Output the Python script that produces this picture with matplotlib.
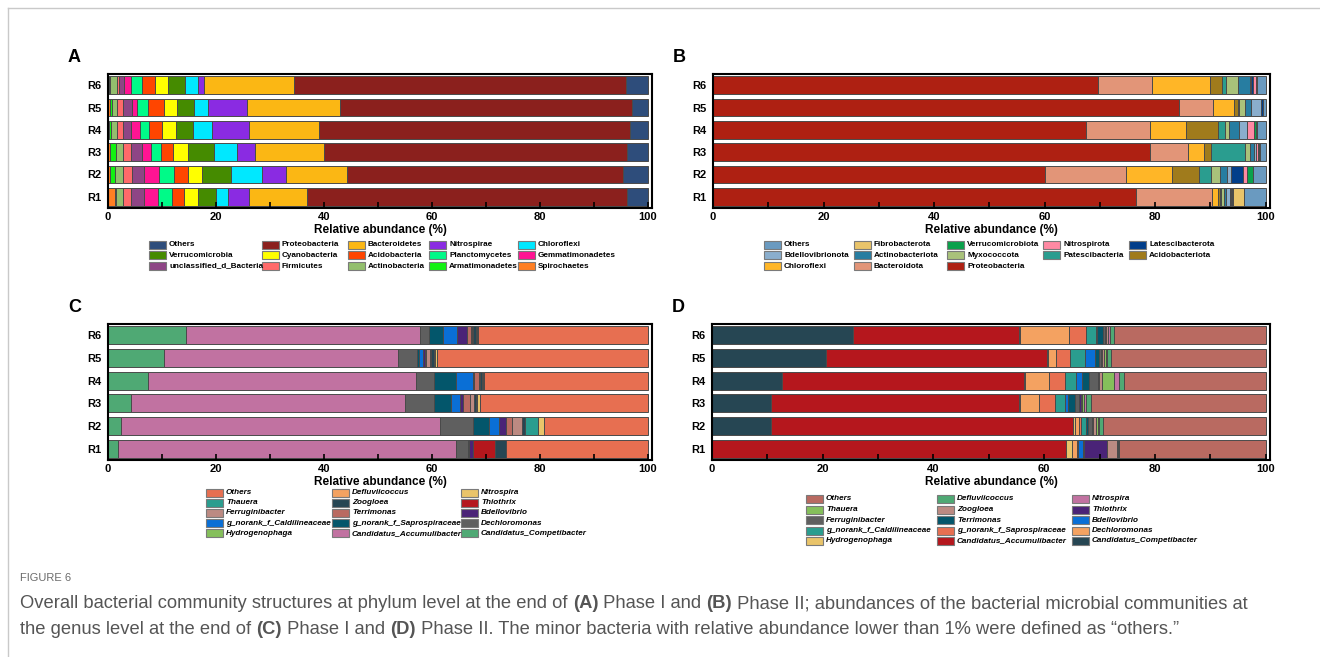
import numpy as np
import matplotlib
matplotlib.use("Agg")
import matplotlib.pyplot as plt
from matplotlib.patches import Rectangle
from matplotlib.lines import Line2D

plt.rcParams['font.family'] = ['Liberation Sans', 'DejaVu Sans']

W, H = 1320, 657
samples = ["R1", "R2", "R3", "R4", "R5", "R6"]

# phylum level, phase I (stacking order, left to right)
a_taxa = ["Spirochaetes", "Armatimonadetes", "Actinobacteria", "Firmicutes",
          "unclassified_d_Bacteria", "Gemmatimonadetes", "Planctomycetes",
          "Acidobacteria", "Cyanobacteria", "Verrucomicrobia", "Chloroflexi",
          "Nitrospirae", "Bacteroidetes", "Proteobacteria", "Others"]
a_colors = ["#FF7F24", "#12F212", "#93BF6D", "#FF6A6A", "#8E4585", "#FF1493",
            "#00FA88", "#FF4500", "#FFFF00", "#458B00", "#00E8FF", "#8A2BE2",
            "#FBB714", "#8B201D", "#2E4D7B"]
a_vals = [
    [1.3, 0.2, 1.2, 1.6, 2.3, 2.6, 2.6, 2.3, 2.5, 3.5, 2.2, 3.9, 10.7, 59.2, 3.9],
    [0.3, 1.0, 1.5, 1.6, 2.3, 2.8, 2.7, 2.6, 2.7, 5.3, 5.7, 4.5, 11.2, 51.3, 4.5],
    [0.3, 1.2, 1.3, 1.4, 2.1, 1.6, 2.0, 2.1, 2.8, 4.8, 4.3, 3.3, 12.9, 56.0, 3.9],
    [0.15, 0.4, 1.2, 1.0, 1.6, 1.5, 1.7, 2.5, 2.6, 3.1, 3.5, 6.9, 13.0, 57.65, 3.2],
    [0.35, 0.3, 1.1, 1.05, 1.6, 1.05, 2.0, 3.0, 2.35, 3.2, 2.55, 7.2, 17.3, 54.05, 2.9],
    [0.1, 0.25, 1.25, 0.5, 0.95, 1.2, 2.05, 2.5, 2.4, 3.15, 2.35, 1.0, 16.7, 61.5, 4.1],
]

# phylum level, phase II
b_taxa = ["Proteobacteria", "Bacteroidota", "Chloroflexi", "Acidobacteriota",
          "Patescibacteria", "Myxococcota", "Actinobacteriota", "Bdellovibrionota",
          "Latescibacterota", "Nitrospirota", "Verrucomicrobiota", "Fibrobacterota",
          "Others"]
b_colors = ["#AE2012", "#E29578", "#FFB627", "#A07B1C", "#2A9D8F", "#A9C27A",
            "#277DA1", "#8AAECD", "#023E8A", "#FF89A3", "#0AA14B", "#E9C46A",
            "#6A9AC0"]
b_vals = [
    [76.6, 13.7, 1.1, 0.35, 0.1, 0.6, 0.3, 0.9, 0.1, 0.1, 0.3, 2.0, 3.85],
    [60.1, 14.7, 8.2, 5.0, 2.2, 1.5, 1.3, 0.75, 2.15, 0.7, 1.1, 0.1, 2.2],
    [79.1, 6.8, 2.9, 1.4, 6.1, 0.8, 0.8, 0.3, 0.1, 0.4, 0.1, 0.1, 1.1],
    [67.5, 11.5, 6.6, 5.85, 1.25, 0.7, 1.8, 1.4, 0.05, 1.3, 0.4, 0.05, 1.6],
    [84.3, 6.1, 3.9, 0.7, 0.2, 1.1, 1.0, 1.9, 0.3, 0.0, 0.0, 0.0, 0.5],
    [69.7, 9.8, 10.4, 2.3, 0.6, 2.2, 2.2, 0.2, 0.4, 0.4, 0.1, 0.1, 1.6],
]

# genus level, same taxa for both phases
genus_taxa = ["Candidatus_Competibacter", "Candidatus_Accumulibacter", "Hydrogenophaga",
              "Dechloromonas", "g_norank_f_Saprospiraceae", "g_norank_f_Caldilineaceae",
              "Bdellovibrio", "Terrimonas", "Ferruginibacter", "Thiothrix", "Zoogloea",
              "Thauera", "Nitrospira", "Defluviicoccus", "Others"]
c_colors = ["#4FA974", "#C172A1", "#85BF5B", "#5F5F5F", "#03566B", "#0A6FD6",
            "#4A2377", "#B96A61", "#BC8A82", "#B5171D", "#264653", "#2A9D8F",
            "#E9C46A", "#F4A261", "#E76F51"]
c_vals = [
    [1.8, 62.6, 0.0, 2.3, 0.2, 0.0, 0.7, 0.1, 0.0, 4.1, 1.9, 0.1, 0.0, 0.0, 26.2],
    [2.5, 59.0, 0.0, 6.1, 3.0, 1.8, 1.3, 1.2, 1.8, 0.0, 0.5, 2.5, 1.0, 0.0, 19.3],
    [4.3, 50.8, 0.0, 5.3, 3.1, 1.7, 0.6, 1.3, 0.7, 0.1, 0.3, 0.2, 0.5, 0.1, 31.0],
    [7.5, 49.6, 0.0, 3.3, 4.0, 3.3, 0.1, 0.9, 0.3, 0.0, 0.3, 0.0, 0.2, 0.1, 30.4],
    [10.3, 43.4, 0.0, 3.5, 0.4, 0.8, 0.4, 0.1, 0.8, 0.1, 0.6, 0.1, 0.4, 0.1, 39.0],
    [14.4, 43.5, 0.0, 1.6, 2.5, 2.7, 1.8, 0.7, 0.3, 0.1, 0.6, 0.2, 0.0, 0.1, 31.5],
]
d_colors = ["#264653", "#B5171D", "#E9C46A", "#F4A261", "#E76F51", "#2A9D8F",
            "#0A6FD6", "#03566B", "#5F5F5F", "#4A2377", "#BC8A82", "#85BF5B",
            "#C172A1", "#4FA974", "#B96A61"]
d_vals = [
    [0.0, 64.0, 1.0, 1.0, 0.1, 0.1, 0.8, 0.1, 0.1, 4.2, 1.7, 0.1, 0.1, 0.2, 26.5],
    [10.6, 54.7, 0.2, 0.8, 0.3, 0.9, 0.1, 0.3, 0.7, 0.2, 0.5, 0.4, 0.2, 0.8, 29.3],
    [10.7, 44.8, 0.2, 3.4, 2.9, 1.8, 0.5, 1.3, 0.7, 0.3, 0.3, 0.3, 0.4, 0.9, 31.5],
    [12.6, 43.7, 0.2, 4.4, 2.9, 2.0, 1.0, 1.3, 1.7, 0.1, 0.5, 2.3, 0.9, 0.8, 25.6],
    [20.6, 40.0, 0.1, 1.5, 2.5, 2.7, 1.8, 0.7, 0.4, 0.2, 0.4, 0.2, 0.2, 0.7, 28.0],
    [25.4, 30.1, 0.1, 8.9, 3.0, 1.8, 0.2, 1.1, 0.4, 0.2, 0.3, 0.1, 0.3, 0.8, 27.3],
]

fig = plt.figure(figsize=(W / 100, H / 100), dpi=100)


def fx(px):
    return px / W


def fy(py):
    return 1 - py / H


def stacked(l, t, r, b, taxa, colors, vals, letter):
    ax = fig.add_axes([fx(l), fy(b), (r - l) / W, (b - t) / H])
    vals = np.array(vals)
    left = np.zeros(len(samples))
    for j, col in enumerate(colors):
        ax.barh(samples, vals[:, j], left=left, height=0.8, color=col,
                edgecolor="#4a4a4a", linewidth=0.7)
        left += vals[:, j]
    ax.set_xlim(0, 100.8)
    ax.set_ylim(-0.5, 5.5)
    ax.set_xticks(range(0, 101, 20))
    ax.set_xticks(range(10, 100, 20), minor=True)
    ax.tick_params(axis="x", which="both", direction="in", length=4, width=1.2,
                   labelsize=8, pad=3)
    ax.tick_params(axis="y", length=0, labelsize=8, pad=5)
    for lab in ax.get_xticklabels() + ax.get_yticklabels():
        lab.set_fontweight("bold")
    for sp in ax.spines.values():
        sp.set_linewidth(1.5)
    ax.set_xlabel("Relative abundance (%)", fontsize=8.5, fontweight="bold", labelpad=1)
    fig.text(fx(l - 40), fy(t - 16), letter, fontsize=13, fontweight="bold",
             va="center", ha="left")
    return ax


def legend_block(taxa, colors, col_x, y0, dy, ncol, italic=False):
    names = list(reversed(taxa))
    cols = list(reversed(colors))
    for i, (name, col) in enumerate(zip(names, cols)):
        r, c = divmod(i, ncol)
        x = col_x[c]
        y = y0 + r * dy
        fig.patches.append(Rectangle((fx(x), fy(y + 4)), 17 / W, 8 / H,
                                     transform=fig.transFigure, facecolor=col,
                                     edgecolor="#7a7a7a", linewidth=0.8))
        fig.text(fx(x + 20), fy(y), name, fontsize=5.9, fontweight="bold",
                 style="italic" if italic else "normal", va="center", ha="left")


stacked(108, 74, 652, 208, a_taxa, a_colors, a_vals, "A")
stacked(713, 74, 1270, 208, b_taxa, b_colors, b_vals, "B")
stacked(108, 324, 652, 460, genus_taxa, c_colors, c_vals, "C")
stacked(712, 324, 1270, 460, genus_taxa, d_colors, d_vals, "D")

legend_block(a_taxa, a_colors, [149, 262, 348, 429, 518], 245, 10.5, 5)
legend_block(b_taxa, b_colors, [764, 854, 947, 1043, 1129], 245, 10.5, 5)
legend_block(genus_taxa, c_colors, [206, 332, 461], 492.5, 10.2, 3, italic=True)
legend_block(genus_taxa, d_colors, [806, 937, 1072], 499, 10.5, 3, italic=True)

# outer frame of the figure box
fig.add_artist(Line2D([fx(8), fx(1320)], [fy(8), fy(8)], transform=fig.transFigure,
                      color="#c9c9c9", linewidth=1))
fig.add_artist(Line2D([fx(8), fx(8)], [fy(8), fy(657)], transform=fig.transFigure,
                      color="#c9c9c9", linewidth=1))

# caption
cap = fig.add_axes([0, 0, 1, 1])
cap.axis("off")
cap_font = ["Liberation Sans", "DejaVu Sans"]
cap.text(fx(20), fy(578), "FIGURE 6", fontsize=8, color="#6b6b6b",
         family=cap_font, va="center", transform=fig.transFigure)

line1 = [("Overall bacterial community structures at phylum level at the end of ", "normal"),
         ("(A)", "bold"), (" Phase I and ", "normal"), ("(B)", "bold"),
         (" Phase II; abundances of the bacterial microbial communities at", "normal")]
line2 = [("the genus level at the end of ", "normal"), ("(C)", "bold"),
         (" Phase I and ", "normal"), ("(D)", "bold"),
         (" Phase II. The minor bacteria with relative abundance lower than 1% were defined as \u201cothers.\u201d", "normal")]


def caption_line(y, parts):
    s, w = parts[0]
    t = cap.text(fx(20), fy(y), s, fontsize=13.2, fontweight=w, color="#555555",
                 family=cap_font, va="center", transform=fig.transFigure)
    for s, w in parts[1:]:
        t = cap.annotate(s, xy=(1, 0), xycoords=t, va="bottom", fontsize=13.2,
                         fontweight=w, color="#555555", family=cap_font)


caption_line(604, line1)
caption_line(630, line2)

fig.savefig("out.png", dpi=100)
